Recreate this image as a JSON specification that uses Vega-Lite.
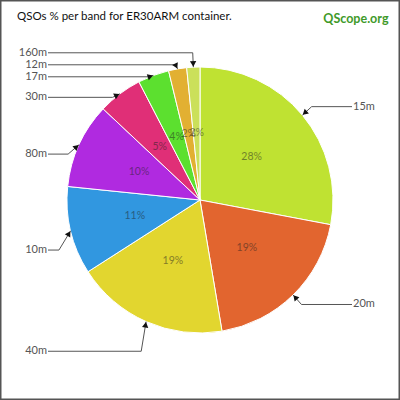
{
  "$schema": "https://vega.github.io/schema/vega-lite/v6.json",
  "width": 400,
  "height": 400,
  "autosize": "none",
  "padding": 0,
  "background": "white",
  "config": {"view": {"stroke": "#555", "strokeWidth": 3}, "font": "Lato"},
  "title": {
    "text": "QSOs % per band for ER30ARM container.",
    "anchor": "start",
    "frame": "group",
    "offset": -22,
    "dx": 17,
    "font": "Lato",
    "fontSize": 11.5,
    "fontWeight": "normal",
    "color": "#111"
  },
  "data": {
    "values": [
      {"band": "15m", "pct": 28.0},
      {"band": "20m", "pct": 19.4},
      {"band": "40m", "pct": 18.6},
      {"band": "10m", "pct": 10.7},
      {"band": "80m", "pct": 10.4},
      {"band": "30m", "pct": 5.4},
      {"band": "17m", "pct": 3.8},
      {"band": "12m", "pct": 2.2},
      {"band": "160m", "pct": 1.6}
    ]
  },
  "transform": [
    {"window": [{"op": "row_number", "as": "rn"}]},
    {"window": [{"op": "sum", "field": "pct", "as": "cum"}], "sort": [{"field": "rn"}], "frame": [null, 0]},
    {"joinaggregate": [{"op": "sum", "field": "pct", "as": "total"}]},
    {"calculate": "round(datum.pct) + '%'", "as": "label"},
    {"calculate": "(datum.cum - datum.pct / 2) / datum.total * 2 * PI", "as": "mid"},
    {"calculate": "133 * sin(datum.mid)", "as": "tx"},
    {"calculate": "-133 * cos(datum.mid)", "as": "ty"},
    {"calculate": "datum.mid > PI ? 'L' : 'R'", "as": "side"},
    {"calculate": "datum.side == 'L' ? 1.115 * datum.ty + 15.7 : 1.1 * datum.ty", "as": "d"},
    {"window": [{"op": "row_number", "as": "i"}], "groupby": ["side"], "sort": [{"field": "d", "order": "descending"}]},
    {"calculate": "datum.d + 12 * datum.i", "as": "v"},
    {"window": [{"op": "min", "field": "v", "as": "m"}], "groupby": ["side"], "sort": [{"field": "d", "order": "descending"}], "frame": [null, 0]},
    {"calculate": "datum.m - 12 * datum.i", "as": "ly"},
    {"calculate": "datum.tx + (datum.side == 'L' ? -12 : 12) * abs(sin(datum.mid))", "as": "ex"},
    {"calculate": "datum.side == 'L' ? -152 : 152", "as": "lx"},
    {"calculate": "datum.tx - datum.ex", "as": "dx"},
    {"calculate": "datum.ty - datum.ly", "as": "dy"},
    {"calculate": "max(sqrt(datum.dx * datum.dx + datum.dy * datum.dy), 0.001)", "as": "len"},
    {"calculate": "atan2(datum.dx, -datum.dy) * 180 / PI", "as": "ang"},
    {"calculate": "datum.tx - 3.2 * datum.dx / datum.len", "as": "ax"},
    {"calculate": "datum.ty - 3.2 * datum.dy / datum.len", "as": "ay"}
  ],
  "layer": [
    {
      "mark": {"type": "arc", "radius": 133, "stroke": "white", "strokeWidth": 1},
      "encoding": {
        "theta": {"field": "pct", "type": "quantitative", "stack": true},
        "order": {"field": "rn", "type": "quantitative"},
        "color": {
          "field": "band",
          "type": "nominal",
          "scale": {
            "domain": ["15m", "20m", "40m", "10m", "80m", "30m", "17m", "12m", "160m"],
            "range": ["#bfe232", "#e2652f", "#e2d62f", "#3197e0", "#b02ae0", "#e02f77", "#5ce02f", "#e2b032", "#cbe05a"]
          },
          "legend": null
        }
      }
    },
    {
      "mark": {"type": "text", "radius": 67, "fontSize": 10.5, "fill": "#222", "opacity": 0.5},
      "encoding": {
        "theta": {"field": "pct", "type": "quantitative", "stack": true},
        "order": {"field": "rn", "type": "quantitative"},
        "text": {"field": "label"}
      }
    },
    {
      "mark": {"type": "rule", "color": "#555", "strokeWidth": 1},
      "encoding": {
        "x": {"field": "lx", "type": "quantitative", "scale": {"domain": [-200, 200], "nice": false},
              "axis": {"orient": "top", "title": "QScope.org", "domain": false, "ticks": false, "labels": false, "grid": false,
                       "titleX": 388, "titleY": 22, "titleAlign": "right", "titleBaseline": "alphabetic",
                       "titleColor": "#3f9a2a", "titleFont": "Lato", "titleFontSize": 12.5, "titleFontWeight": "bold"}},
        "x2": {"field": "ex"},
        "y": {"field": "ly", "type": "quantitative", "scale": {"domain": [-200, 200], "nice": false, "reverse": true}, "axis": null}
      }
    },
    {
      "mark": {"type": "rule", "color": "#555", "strokeWidth": 1},
      "encoding": {
        "x": {"field": "ex", "type": "quantitative",
              "axis": {"orient": "top", "title": "QScope.org", "domain": false, "ticks": false, "labels": false, "grid": false,
                       "titleX": 388, "titleY": 22, "titleAlign": "right", "titleBaseline": "alphabetic",
                       "titleColor": "#3f9a2a", "titleFont": "Lato", "titleFontSize": 12.5, "titleFontWeight": "bold"}},
        "x2": {"field": "tx"},
        "y": {"field": "ly", "type": "quantitative", "axis": null},
        "y2": {"field": "ty"}
      }
    },
    {
      "mark": {"type": "point", "shape": "triangle-up", "filled": true, "size": 40, "color": "#111", "opacity": 1},
      "encoding": {
        "x": {"field": "ax", "type": "quantitative",
              "axis": {"orient": "top", "title": "QScope.org", "domain": false, "ticks": false, "labels": false, "grid": false,
                       "titleX": 388, "titleY": 22, "titleAlign": "right", "titleBaseline": "alphabetic",
                       "titleColor": "#3f9a2a", "titleFont": "Lato", "titleFontSize": 12.5, "titleFontWeight": "bold"}},
        "y": {"field": "ay", "type": "quantitative", "axis": null},
        "angle": {"field": "ang", "type": "quantitative", "scale": null}
      }
    },
    {
      "transform": [{"filter": "datum.side == 'L'"}],
      "mark": {"type": "text", "align": "right", "baseline": "middle", "dx": -1, "fontSize": 11, "color": "#555"},
      "encoding": {
        "x": {"field": "lx", "type": "quantitative",
              "axis": {"orient": "top", "title": "QScope.org", "domain": false, "ticks": false, "labels": false, "grid": false,
                       "titleX": 388, "titleY": 22, "titleAlign": "right", "titleBaseline": "alphabetic",
                       "titleColor": "#3f9a2a", "titleFont": "Lato", "titleFontSize": 12.5, "titleFontWeight": "bold"}},
        "y": {"field": "ly", "type": "quantitative", "axis": null},
        "text": {"field": "band"}
      }
    },
    {
      "transform": [{"filter": "datum.side == 'R'"}],
      "mark": {"type": "text", "align": "left", "baseline": "middle", "dx": 1, "fontSize": 11, "color": "#555"},
      "encoding": {
        "x": {"field": "lx", "type": "quantitative",
              "axis": {"orient": "top", "title": "QScope.org", "domain": false, "ticks": false, "labels": false, "grid": false,
                       "titleX": 388, "titleY": 22, "titleAlign": "right", "titleBaseline": "alphabetic",
                       "titleColor": "#3f9a2a", "titleFont": "Lato", "titleFontSize": 12.5, "titleFontWeight": "bold"}},
        "y": {"field": "ly", "type": "quantitative", "axis": null},
        "text": {"field": "band"}
      }
    }
  ]
}
